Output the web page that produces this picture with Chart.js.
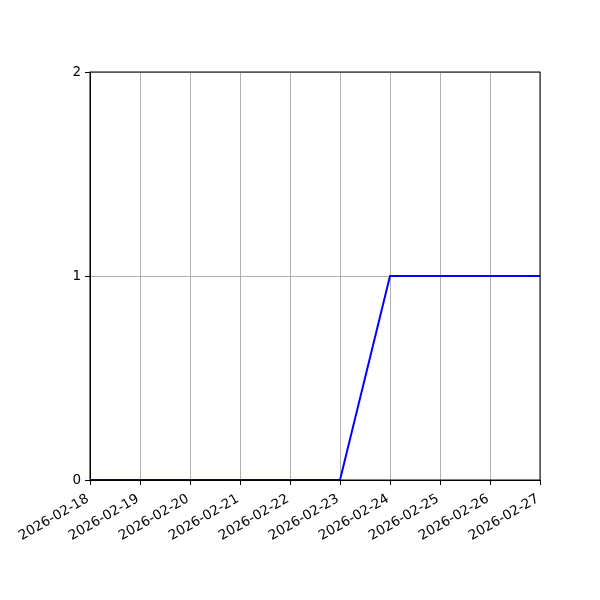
<!DOCTYPE html>
<html>
<head>
<meta charset="utf-8">
<script src="https://cdn.jsdelivr.net/npm/chart.js@4"></script>
<style>
  html, body { margin: 0; padding: 0; background: #fff; }
  #wrap { width: 600px; height: 600px; }
</style>
</head>
<body>
<div id="wrap"><canvas id="chart" width="600" height="600"></canvas></div>
<script>
const dates = ['2026-02-18', '2026-02-19', '2026-02-20', '2026-02-21', '2026-02-22',
               '2026-02-23', '2026-02-24', '2026-02-25', '2026-02-26', '2026-02-27'];
const counts = [0, 0, 0, 0, 0, 0, 1, 1, 1, 1];
const yTicks = [0, 1, 2];

// full box around the plot, like matplotlib spines
const frame = {
  id: 'frame',
  afterDraw(chart) {
    const { ctx, chartArea: a } = chart;
    ctx.save();
    ctx.strokeStyle = '#000';
    ctx.lineWidth = 1;
    ctx.strokeRect(a.left, a.top, a.right - a.left, a.bottom - a.top);
    ctx.restore();
  }
};

const font = { family: 'DejaVu Sans', size: 13.5 };

new Chart(document.getElementById('chart').getContext('2d'), {
  type: 'line',
  data: {
    labels: dates,
    datasets: [{
      data: counts,
      borderColor: '#0000ff',
      borderWidth: 2,
      pointRadius: 0,
      tension: 0,
      fill: false
    }]
  },
  options: {
    responsive: false,
    animation: false,
    devicePixelRatio: 1,
    layout: { padding: { left: 0, top: 72, right: 60, bottom: 0 } },
    plugins: { legend: { display: false }, tooltip: { enabled: false } },
    scales: {
      x: {
        type: 'category',
        offset: false,
        afterFit: (s) => { s.height = 120; },
        grid: { color: '#b0b0b0', tickColor: '#000', tickLength: 5, lineWidth: 1 },
        border: { color: '#000' },
        ticks: {
          color: '#000', font, padding: 6, labelOffset: -2,
          minRotation: 30, maxRotation: 30, autoSkip: false
        }
      },
      y: {
        min: 0,
        max: 2,
        afterFit: (s) => { s.width = 90; },
        afterBuildTicks: (s) => { s.ticks = yTicks.map(v => ({ value: v })); },
        grid: { color: '#b0b0b0', tickColor: '#000', tickLength: 5, lineWidth: 1 },
        border: { color: '#000' },
        ticks: { color: '#000', font, padding: 4 }
      }
    }
  },
  plugins: [frame]
});
</script>
</body>
</html>
